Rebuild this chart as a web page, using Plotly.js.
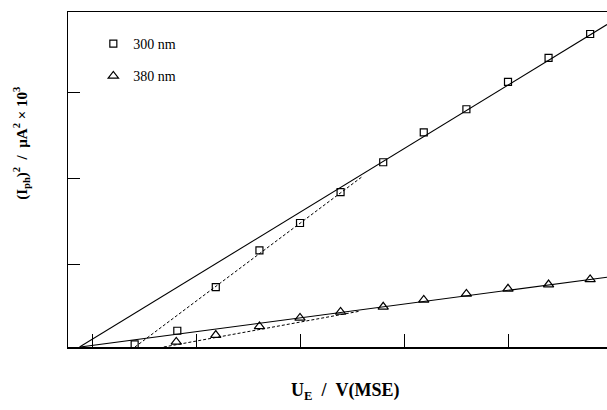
<!DOCTYPE html>
<html>
<head>
<meta charset="utf-8">
<script src="https://cdn.plot.ly/plotly-3.0.1.min.js"></script>
<style>html,body{margin:0;padding:0;background:#fff;}#chart{width:607px;height:410px;}</style>
</head>
<body>
<div id="chart"></div>
<script>
// Data (axis units; ticks at integer positions)
const xSquares = [0.41, 0.82, 1.19, 1.61, 2.0, 2.39, 2.8, 3.19, 3.6, 4.0, 4.39, 4.79];
const ySquares = [0.06, 0.22, 0.73, 1.16, 1.48, 1.84, 2.19, 2.54, 2.81, 3.13, 3.41, 3.69];
const xTriangles = [0.81, 1.19, 1.61, 2.0, 2.39, 2.8, 3.19, 3.6, 4.0, 4.39, 4.79];
const yTriangles = [0.09, 0.17, 0.27, 0.37, 0.44, 0.50, 0.58, 0.65, 0.71, 0.76, 0.82];

// Fitted lines (end points)
const fitSquaresX = [-0.12, 4.952];
const fitSquaresY = [0.03, 3.80];
const fitSquaresLowX = [0.413, 2.596];
const fitSquaresLowY = [0.03, 2.02];
const fitTrianglesX = [-0.115, 4.952];
const fitTrianglesY = [0.03, 0.846];
const fitTrianglesLowX = [0.69, 2.58];
const fitTrianglesLowY = [0.03, 0.45];

const names = ['300 nm', '380 nm'];
const xTicks = [0, 1, 2, 3, 4];
const yTicks = [1, 2, 3];
const xTitle = '<b>U<sub>E</sub>&nbsp;&nbsp;/&nbsp;&nbsp;V(MSE)</b>';
const yTitle = '<b>(I<sub>ph</sub>)<sup>2</sup>&nbsp;&nbsp;/&nbsp;&nbsp;µA<sup>2</sup> × 10<sup>3</sup></b>';

const serif = 'Liberation Serif, Times New Roman, serif';
const lineStyle = {color: '#000', width: 1.1};
const dashStyle = {color: '#000', width: 1, dash: '3px,2px'};

const traces = [
  {x: fitSquaresX, y: fitSquaresY, mode: 'lines', line: lineStyle, showlegend: false, hoverinfo: 'skip'},
  {x: fitSquaresLowX, y: fitSquaresLowY, mode: 'lines', line: dashStyle, showlegend: false, hoverinfo: 'skip'},
  {x: fitTrianglesX, y: fitTrianglesY, mode: 'lines', line: lineStyle, showlegend: false, hoverinfo: 'skip'},
  {x: fitTrianglesLowX, y: fitTrianglesLowY, mode: 'lines', line: dashStyle, showlegend: false, hoverinfo: 'skip'},
  {x: xSquares, y: ySquares, mode: 'markers', name: names[0], legendgroup: 'a',
   marker: {symbol: 'square-open', size: 7, color: '#000', line: {width: 1.2, color: '#000'}}},
  {x: xTriangles, y: yTriangles, mode: 'markers', name: names[1], legendgroup: 'b',
   marker: {symbol: 'triangle-up-open', size: 9, color: '#000', line: {width: 1.2, color: '#000'}}}
];

const layout = {
  width: 607, height: 410,
  margin: {l: 68, r: 0, t: 12, b: 63},
  paper_bgcolor: '#fff', plot_bgcolor: '#fff',
  font: {family: serif, color: '#000'},
  showlegend: true,
  legend: {x: 0.047, y: 0.952, xanchor: 'left', yanchor: 'top', bgcolor: 'rgba(0,0,0,0)',
           font: {family: serif, size: 14, color: '#000'}, tracegroupgap: 11},
  xaxis: {
    range: [-0.231, 4.952], tickvals: xTicks, showticklabels: false,
    ticks: 'inside', ticklen: 13, tickwidth: 1, tickcolor: '#000',
    showline: true, linecolor: '#000', linewidth: 1.5, mirror: true,
    showgrid: false, zeroline: false
  },
  yaxis: {
    range: [0.03, 3.947], tickvals: yTicks, showticklabels: false,
    ticks: 'inside', ticklen: 12, tickwidth: 1, tickcolor: '#000',
    showline: true, linecolor: '#000', linewidth: 1.5, mirror: false,
    showgrid: false, zeroline: false
  },
  annotations: [
    {text: xTitle, xref: 'paper', yref: 'paper', x: 0.513, y: -0.134, xanchor: 'center', yanchor: 'middle',
     showarrow: false, font: {family: serif, size: 18, color: '#000'}},
    {text: yTitle, xref: 'paper', yref: 'paper', x: -0.087, y: 0.607, xanchor: 'center', yanchor: 'middle',
     textangle: -90, showarrow: false, font: {family: serif, size: 15, color: '#000'}}
  ]
};

Plotly.newPlot('chart', traces, layout, {staticPlot: true, displayModeBar: false});
</script>
</body>
</html>
